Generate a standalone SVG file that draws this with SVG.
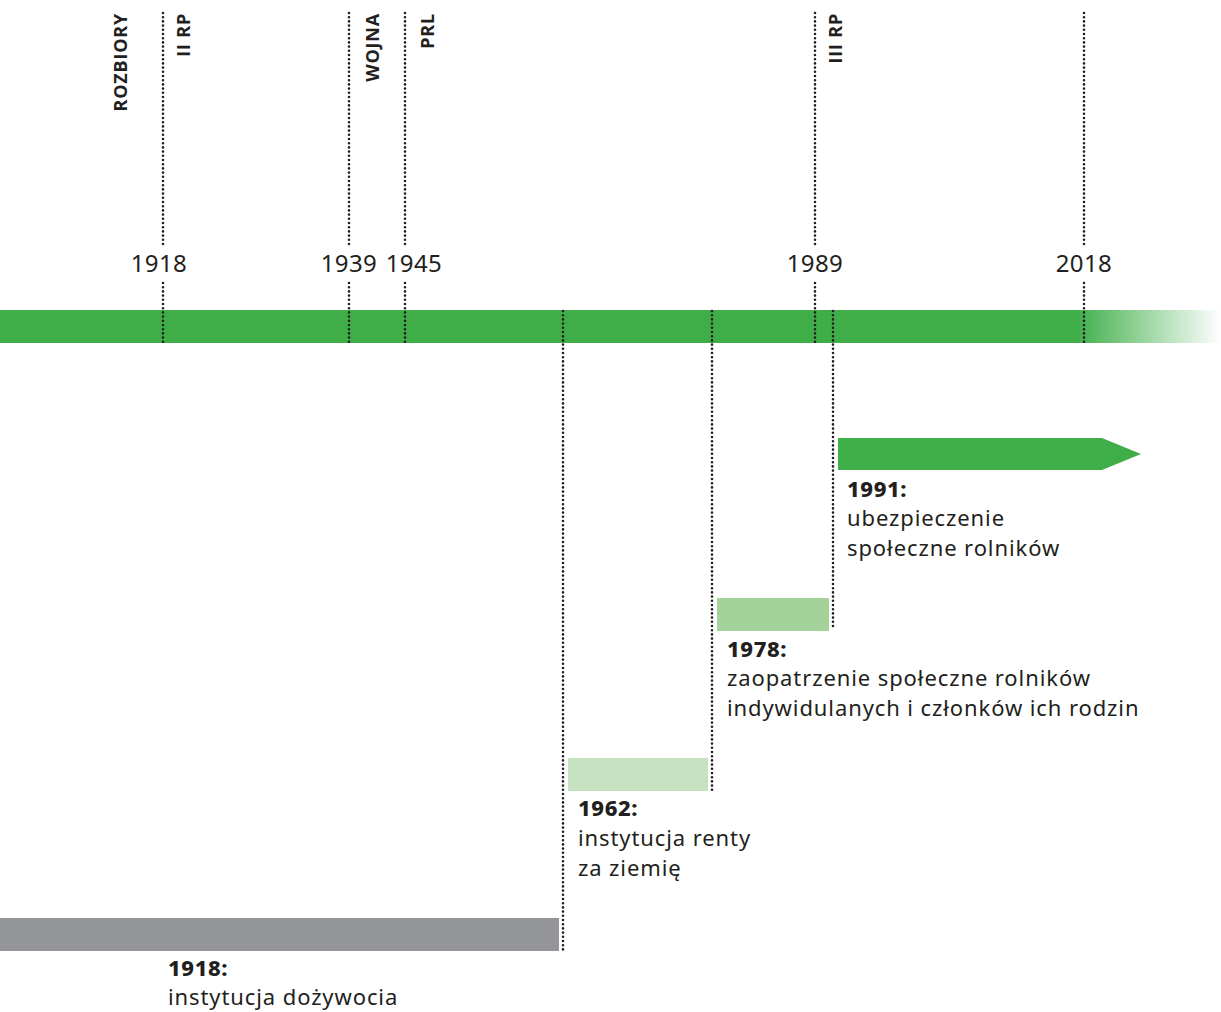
<svg xmlns="http://www.w3.org/2000/svg" width="1221" height="1012" viewBox="0 0 1221 1012">
<style>
.dot{stroke:#231f20;stroke-width:2.6;stroke-linecap:round;stroke-dasharray:0 4.2;fill:none}
.yr{font-family:"Noto Sans","Open Sans",sans-serif;font-size:24px;letter-spacing:0.4px;fill:#231f20;text-anchor:middle}
.era{font-family:"Open Sans","Noto Sans",sans-serif;font-size:18px;font-weight:700;letter-spacing:0.8px;fill:#231f20;text-anchor:end}
.hd{font-family:"Noto Sans","Open Sans",sans-serif;font-size:22px;font-weight:800;letter-spacing:0.6px;fill:#231f20}
.tx{font-family:"Noto Sans","Open Sans",sans-serif;font-size:22px;letter-spacing:0.9px;fill:#231f20}
</style>
<defs>
<linearGradient id="fade" x1="1075" y1="0" x2="1221" y2="0" gradientUnits="userSpaceOnUse">
<stop offset="0" stop-color="#3fae49"/>
<stop offset="1" stop-color="#3fae49" stop-opacity="0"/>
</linearGradient>
</defs>
<g id="band">
<rect x="0" y="310" width="1080" height="33" fill="#3fae49"/>
<rect x="1075" y="310" width="146" height="33" fill="url(#fade)"/>
</g>
<g id="connectors">
<line class="dot" x1="163" y1="13" x2="163" y2="245"/>
<line class="dot" x1="163" y1="283" x2="163" y2="342"/>
<line class="dot" x1="349" y1="13" x2="349" y2="245"/>
<line class="dot" x1="349" y1="283" x2="349" y2="342"/>
<line class="dot" x1="405" y1="13" x2="405" y2="245"/>
<line class="dot" x1="405" y1="283" x2="405" y2="342"/>
<line class="dot" x1="815" y1="13" x2="815" y2="245"/>
<line class="dot" x1="815" y1="283" x2="815" y2="342"/>
<line class="dot" x1="1084" y1="13" x2="1084" y2="245"/>
<line class="dot" x1="1084" y1="283" x2="1084" y2="342"/>
<line class="dot" x1="563" y1="311" x2="563" y2="950"/>
<line class="dot" x1="712" y1="311" x2="712" y2="790"/>
<line class="dot" x1="833" y1="311" x2="833" y2="630"/>
</g>
<g id="eras">
<text class="era" transform="translate(127,13) rotate(-90)">ROZBIORY</text>
<text class="era" transform="translate(190,13) rotate(-90)">II RP</text>
<text class="era" transform="translate(379,13) rotate(-90)">WOJNA</text>
<text class="era" transform="translate(434,13) rotate(-90)">PRL</text>
<text class="era" transform="translate(842,13) rotate(-90)">III RP</text>
</g>
<g id="years">
<text class="yr" x="159" y="272">1918</text>
<text class="yr" x="349" y="272">1939</text>
<text class="yr" x="414" y="272">1945</text>
<text class="yr" x="815" y="272">1989</text>
<text class="yr" x="1084" y="272">2018</text>
</g>
<g id="n1991">
<path d="M838 438 H1102 L1141 454 L1102 470 H838 Z" fill="#3fae49"/>
<text class="hd" x="847" y="497">1991:</text>
<text class="tx" x="847" y="526">ubezpieczenie</text>
<text class="tx" x="847" y="556">społeczne rolników</text>
</g>
<g id="n1978">
<rect x="717" y="598" width="112" height="33" fill="#a3d29b"/>
<text class="hd" x="727" y="657">1978:</text>
<text class="tx" x="727" y="686">zaopatrzenie społeczne rolników</text>
<text class="tx" x="727" y="716">indywidulanych i członków ich rodzin</text>
</g>
<g id="n1962">
<rect x="568" y="758" width="140" height="33" fill="#c6e2c0"/>
<text class="hd" x="578" y="816">1962:</text>
<text class="tx" x="578" y="846">instytucja renty</text>
<text class="tx" x="578" y="876">za ziemię</text>
</g>
<g id="n1918">
<rect x="0" y="918" width="559" height="33" fill="#939598"/>
<text class="hd" x="168" y="976">1918:</text>
<text class="tx" x="168" y="1005">instytucja dożywocia</text>
</g>
</svg>
